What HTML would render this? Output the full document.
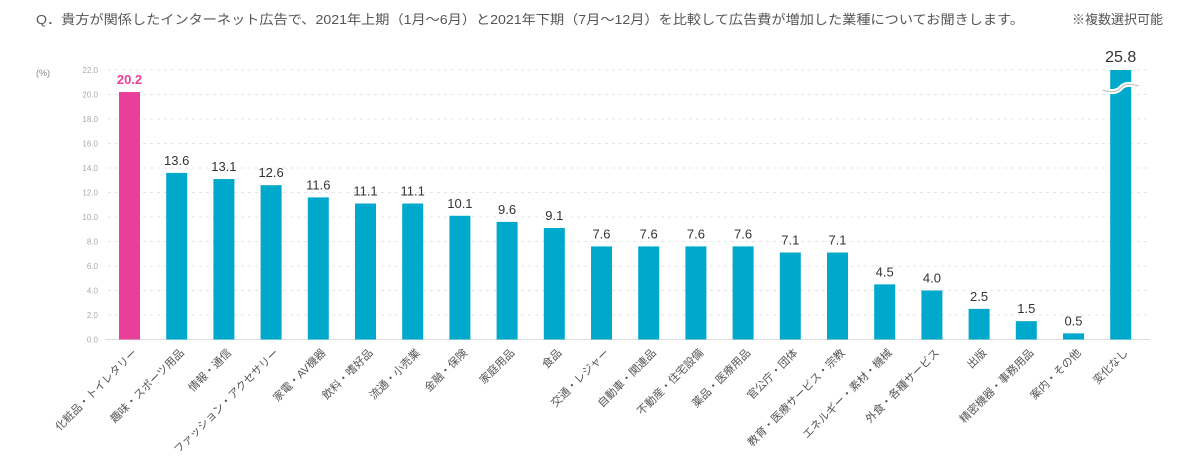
<!DOCTYPE html>
<html><head><meta charset="utf-8"><style>
body{margin:0;background:#fff;}
svg text{font-family:"Liberation Sans","Noto Sans CJK JP",sans-serif;}
</style></head><body>
<svg width="1200" height="451" viewBox="0 0 1200 451" id="c">
<text x="36" y="24" font-size="13" fill="#555" textLength="988" lengthAdjust="spacingAndGlyphs">Q．貴方が関係したインターネット広告で、2021年上期（1月～6月）と2021年下期（7月～12月）を比較して広告費が増加した業種についてお聞きします。</text>
<text x="1072" y="24" font-size="13" fill="#555">※複数選択可能</text>
<text x="36" y="76" font-size="9" fill="#888">(%)</text>
<g id="grid"></g><g id="bars"></g><g id="labels"></g>
</svg>
<script>
const categories=["化粧品・トイレタリー","趣味・スポーツ用品","情報・通信","ファッション・アクセサリー","家電・AV機器","飲料・嗜好品","流通・小売業","金融・保険","家庭用品","食品","交通・レジャー","自動車・関連品","不動産・住宅設備","薬品・医療用品","官公庁・団体","教育・医療サービス・宗教","エネルギー・素材・機械","外食・各種サービス","出版","精密機器・事務用品","案内・その他","変化なし"];
const values=[20.2,13.6,13.1,12.6,11.6,11.1,11.1,10.1,9.6,9.1,7.6,7.6,7.6,7.6,7.1,7.1,4.5,4.0,2.5,1.5,0.5,25.8];
const ticks=[0,2,4,6,8,10,12,14,16,18,20,22];
const ns="http://www.w3.org/2000/svg";
const y0=339.5,yTop=70,vMax=22;
const y=v=>y0-(Math.min(v,vMax)/vMax)*(y0-yTop);
const x=i=>119+i*47.2;
const bw=21;
function mk(t,a,p){const e=document.createElementNS(ns,t);for(const k in a)e.setAttribute(k,a[k]);p.appendChild(e);return e;}
const G=document.getElementById('grid'),B=document.getElementById('bars'),L=document.getElementById('labels');
ticks.forEach(t=>{
 const l=mk('line',{x1:108,x2:1150,y1:y(t),y2:y(t),stroke:'#e4e4e4','stroke-dasharray':'3,4'},G);
 
 
 const tx=mk('text',{x:98,y:y(t)+3,'font-size':8,fill:'#aaa','text-anchor':'end'},G);
 tx.textContent=t.toFixed(1);
 
 
});
const ax=mk('line',{x1:105,x2:1150,y1:y0,y2:y0,stroke:'#ddd'},G);


values.forEach((v,i)=>{
 const cx=x(i)+bw/2;
 const last=i===values.length-1, first=i===0;
 const r=mk('rect',{x:x(i),y:y(v),width:bw,height:y0-y(v),fill:first?'#e8409a':'#00a9cc'},B);
 
 
 const t=mk('text',{x:cx,y:last?y(v)-8:y(v)-8,'font-size':last?16:13,fill:first?'#e8409a':'#333','text-anchor':'middle','font-weight':first?'bold':'normal'},L);
 t.textContent=v.toFixed(1);
 
 
 const c=mk('text',{x:cx+8,y:y0+14,'font-size':11,fill:'#555','text-anchor':'end',transform:`rotate(-45 ${cx+8} ${y0+14})`},L);
 c.textContent=categories[i];
 
 
 if(last&&v>vMax){
  const br=mk('path',{d:`M${cx-18} ${y(vMax)+20} Q${cx-5} ${y(vMax)+24} ${cx} ${y(vMax)+18} Q${cx+5} ${y(vMax)+12} ${cx+18} ${y(vMax)+16}`,stroke:'#fff',fill:'none','stroke-width':5},L);
  
  
  const br2=mk('path',{d:`M${cx-18} ${y(vMax)+20} Q${cx-5} ${y(vMax)+24} ${cx} ${y(vMax)+18} Q${cx+5} ${y(vMax)+12} ${cx+18} ${y(vMax)+16}`,stroke:'#bbb',fill:'none','stroke-width':1},L);
  
  
 }
});
</script>
</body></html>
